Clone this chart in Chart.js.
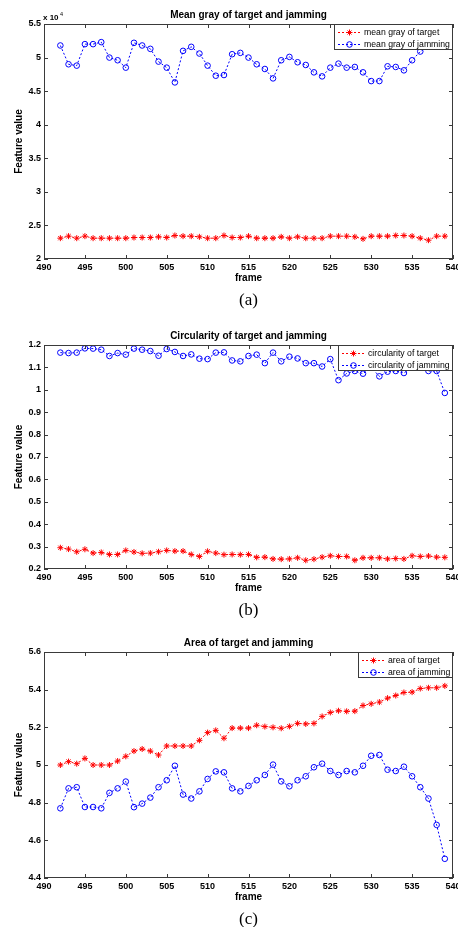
<!DOCTYPE html>
<html>
<head>
<meta charset="utf-8">
<script src="https://cdn.jsdelivr.net/npm/chart.js@4"></script>
<style>
  body { margin: 0; background: #fff; }
  .fig { position: absolute; left: 0; width: 458px; height: 309px; }
</style>
</head>
<body>
<div class="fig" style="top:0"><canvas id="grayChart" width="458" height="309"></canvas></div>
<div class="fig" style="top:309px"><canvas id="circChart" width="458" height="309"></canvas></div>
<div class="fig" style="top:618px"><canvas id="areaChart" width="458" height="309"></canvas></div>
<script>
// frames 492..539
const frames = [492, 493, 494, 495, 496, 497, 498, 499, 500, 501, 502, 503, 504, 505, 506, 507,
  508, 509, 510, 511, 512, 513, 514, 515, 516, 517, 518, 519, 520, 521, 522, 523,
  524, 525, 526, 527, 528, 529, 530, 531, 532, 533, 534, 535, 536, 537, 538, 539];

// (a) mean gray, x 10^4
const grayTarget = [2.31, 2.34, 2.31, 2.34, 2.31, 2.31, 2.31, 2.31, 2.31, 2.32, 2.32, 2.32, 2.33, 2.32, 2.35, 2.34,
  2.34, 2.33, 2.31, 2.31, 2.35, 2.32, 2.32, 2.34, 2.31, 2.31, 2.31, 2.33, 2.31, 2.33, 2.31, 2.31,
  2.31, 2.34, 2.34, 2.34, 2.33, 2.30, 2.34, 2.34, 2.34, 2.35, 2.35, 2.34, 2.31, 2.28, 2.34, 2.34];
const grayJamming = [5.18, 4.90, 4.88, 5.20, 5.20, 5.23, 5.00, 4.96, 4.85, 5.22, 5.18, 5.13, 4.94, 4.85, 4.63, 5.10,
  5.16, 5.06, 4.88, 4.73, 4.74, 5.05, 5.07, 5.00, 4.90, 4.83, 4.69, 4.96, 5.01, 4.93, 4.89, 4.78,
  4.72, 4.85, 4.91, 4.85, 4.86, 4.78, 4.65, 4.65, 4.87, 4.86, 4.81, 4.96, 5.09, 5.17, 5.22, 5.20];

// (b) circularity
const circTarget = [0.295, 0.289, 0.277, 0.288, 0.271, 0.274, 0.265, 0.265, 0.283, 0.276, 0.270, 0.271, 0.277, 0.283, 0.280, 0.280,
  0.265, 0.256, 0.279, 0.271, 0.264, 0.265, 0.264, 0.265, 0.252, 0.253, 0.245, 0.244, 0.245, 0.250, 0.239, 0.244,
  0.253, 0.259, 0.256, 0.256, 0.239, 0.250, 0.250, 0.250, 0.245, 0.247, 0.245, 0.259, 0.256, 0.258, 0.253, 0.252];
const circJamming = [1.166, 1.164, 1.166, 1.185, 1.184, 1.179, 1.151, 1.164, 1.157, 1.184, 1.179, 1.173, 1.152, 1.182, 1.169, 1.151,
  1.158, 1.139, 1.137, 1.166, 1.167, 1.131, 1.127, 1.151, 1.157, 1.119, 1.166, 1.127, 1.148, 1.140, 1.119, 1.119,
  1.104, 1.137, 1.043, 1.073, 1.084, 1.072, 1.100, 1.060, 1.081, 1.084, 1.075, 1.100, 1.110, 1.084, 1.084, 0.986];

// (c) area
const areaTarget = [5.000, 5.018, 5.007, 5.035, 5.000, 5.000, 5.000, 5.021, 5.046, 5.074, 5.085, 5.074, 5.053, 5.101, 5.101, 5.101,
  5.101, 5.131, 5.172, 5.184, 5.142, 5.196, 5.196, 5.196, 5.211, 5.204, 5.200, 5.195, 5.205, 5.221, 5.218, 5.221,
  5.258, 5.279, 5.288, 5.285, 5.286, 5.316, 5.325, 5.334, 5.355, 5.369, 5.385, 5.387, 5.406, 5.410, 5.410, 5.420];
const areaJamming = [4.770, 4.876, 4.882, 4.777, 4.777, 4.770, 4.852, 4.876, 4.912, 4.776, 4.795, 4.827, 4.882, 4.919, 4.996, 4.843,
  4.822, 4.860, 4.926, 4.966, 4.961, 4.876, 4.860, 4.889, 4.919, 4.947, 5.002, 4.913, 4.887, 4.919, 4.940, 4.988,
  5.007, 4.968, 4.947, 4.968, 4.961, 4.996, 5.049, 5.053, 4.975, 4.968, 4.991, 4.940, 4.882, 4.822, 4.682, 4.502];

// axis ranges [min, max, step]
const xRange = [490, 540, 5];
const grayRange = [2, 5.5, 0.5];
const circRange = [0.2, 1.2, 0.1];
const areaRange = [4.4, 5.6, 0.2];

const SANS = '"Liberation Sans", Arial, sans-serif';
const AXIS_COLOR = '#3a3a3a';

function drawMarker(ctx, style, x, y, color) {
  ctx.save();
  ctx.setLineDash([]);
  ctx.strokeStyle = color;
  ctx.lineWidth = 1;
  ctx.beginPath();
  if (style === 'circle') {
    ctx.arc(x, y, 2.8, 0, Math.PI * 2);
  } else {
    ctx.moveTo(x - 3, y); ctx.lineTo(x + 3, y);
    ctx.moveTo(x, y - 3); ctx.lineTo(x, y + 3);
    ctx.moveTo(x - 2, y - 2); ctx.lineTo(x + 2, y + 2);
    ctx.moveTo(x - 2, y + 2); ctx.lineTo(x + 2, y - 2);
  }
  ctx.stroke();
  ctx.restore();
}

// matlab-like box, inner ticks, title, labels and legend
const figureDecor = {
  id: 'figureDecor',
  afterDraw(chart, args, opts) {
    const { ctx, chartArea: a, scales } = chart;
    ctx.save();
    ctx.strokeStyle = AXIS_COLOR;
    ctx.lineWidth = 1;
    ctx.setLineDash([]);
    ctx.strokeRect(a.left + 0.5, a.top + 0.5, a.right - a.left - 1, a.bottom - a.top - 1);

    ctx.beginPath();
    scales.x.ticks.forEach(t => {
      const px = Math.round(scales.x.getPixelForValue(t.value)) + 0.5;
      ctx.moveTo(px, a.bottom); ctx.lineTo(px, a.bottom - 4);
      ctx.moveTo(px, a.top); ctx.lineTo(px, a.top + 4);
    });
    scales.y.ticks.forEach(t => {
      const py = Math.round(scales.y.getPixelForValue(t.value)) + 0.5;
      ctx.moveTo(a.left, py); ctx.lineTo(a.left + 4, py);
      ctx.moveTo(a.right, py); ctx.lineTo(a.right - 4, py);
    });
    ctx.stroke();

    ctx.fillStyle = '#000';
    ctx.textAlign = 'center';
    ctx.textBaseline = 'middle';
    const cx = (a.left + a.right) / 2;
    ctx.font = 'bold 10px ' + SANS;
    ctx.fillText(opts.title, cx, a.top - 9);
    ctx.fillText('frame', cx, a.bottom + 19);

    ctx.save();
    ctx.translate(19.5, (a.top + a.bottom) / 2);
    ctx.rotate(-Math.PI / 2);
    ctx.fillText('Feature value', 0, 0);
    ctx.restore();

    ctx.font = '17px "Liberation Serif", "Times New Roman", serif';
    ctx.fillText(opts.caption, cx, a.bottom + 42);

    if (opts.sci) {
      ctx.textAlign = 'left';
      ctx.font = 'bold 8px ' + SANS;
      ctx.fillText('x 10', a.left - 1, a.top - 6.5);
      const w = ctx.measureText('x 10').width;
      ctx.font = '5.5px ' + SANS;
      ctx.fillText('4', a.left + w + 0.5, a.top - 10);
    }

    // legend
    const dsList = chart.data.datasets;
    ctx.font = '8.7px ' + SANS;
    const textW = Math.max(...dsList.map(d => ctx.measureText(d.label).width));
    const boxW = Math.round(30 + textW + 3);
    const boxH = 26;
    const bx = a.right - boxW;
    const by = a.top;
    ctx.fillStyle = '#fff';
    ctx.fillRect(bx, by, boxW, boxH);
    ctx.strokeStyle = AXIS_COLOR;
    ctx.strokeRect(bx + 0.5, by + 0.5, boxW - 1, boxH - 1);
    dsList.forEach((d, i) => {
      const ly = by + 8 + 12 * i;
      ctx.save();
      ctx.strokeStyle = d.borderColor;
      ctx.setLineDash([2, 2]);
      ctx.beginPath();
      ctx.moveTo(bx + 4, ly + 0.5);
      ctx.lineTo(bx + 27, ly + 0.5);
      ctx.stroke();
      ctx.restore();
      drawMarker(ctx, d.pointStyle, bx + 15.5, ly + 0.5, d.borderColor);
      ctx.fillStyle = '#000';
      ctx.textAlign = 'left';
      ctx.textBaseline = 'middle';
      ctx.fillText(d.label, bx + 30, ly + 0.5);
    });
    ctx.restore();
  }
};

function series(label, values, color, style) {
  return {
    label: label,
    data: frames.map((f, i) => ({ x: f, y: values[i] })),
    borderColor: color,
    backgroundColor: 'rgba(0,0,0,0)',
    borderWidth: 1,
    borderDash: [2, 2],
    pointStyle: style === 'circle' ? 'circle' : 'star',
    pointRadius: style === 'circle' ? 2.8 : 3,
    pointBorderWidth: 1,
    pointBackgroundColor: 'rgba(0,0,0,0)',
    tension: 0
  };
}

function tickText(v) {
  return String(Number(v.toFixed(3)));
}

function makeChart(id, datasets, yRange, padTop, axisH, title, caption, sci) {
  return new Chart(document.getElementById(id).getContext('2d'), {
    type: 'line',
    data: { datasets: datasets },
    options: {
      responsive: false,
      animation: false,
      layout: { padding: { top: padTop, right: 5, left: 0, bottom: 0 } },
      plugins: {
        legend: { display: false },
        title: { display: false },
        tooltip: { enabled: false },
        figureDecor: { title: title, caption: caption, sci: sci }
      },
      scales: {
        x: {
          type: 'linear',
          min: xRange[0], max: xRange[1],
          grid: { display: false, drawTicks: false },
          border: { display: false },
          ticks: {
            stepSize: xRange[2], autoSkip: false, maxRotation: 0, padding: 3,
            color: '#000', font: { family: SANS, size: 9, weight: 'bold' },
            callback: tickText
          },
          afterFit: s => {
            s.height = axisH;
            s.paddingLeft = 0;
            s.paddingRight = 0;
          }
        },
        y: {
          min: yRange[0], max: yRange[1],
          grid: { display: false, drawTicks: false },
          border: { display: false },
          ticks: {
            stepSize: yRange[2], autoSkip: false, padding: 3,
            color: '#000', font: { family: SANS, size: 9, weight: 'bold' },
            callback: tickText
          },
          afterFit: s => {
            s.width = 44;
            s.paddingTop = 0;
            s.paddingBottom = 0;
          }
        }
      }
    },
    plugins: [figureDecor]
  });
}

makeChart('grayChart', [
  series('mean gray of target', grayTarget, '#ff0000', 'star'),
  series('mean gray of jamming', grayJamming, '#0000ff', 'circle')
], grayRange, 24, 50, 'Mean gray of target and jamming', '(a)', true);

makeChart('circChart', [
  series('circularity of target', circTarget, '#ff0000', 'star'),
  series('circularity of jamming', circJamming, '#0000ff', 'circle')
], circRange, 36, 49, 'Circularity of target and jamming', '(b)', false);

makeChart('areaChart', [
  series('area of target', areaTarget, '#ff0000', 'star'),
  series('area of jamming', areaJamming, '#0000ff', 'circle')
], areaRange, 34, 49, 'Area of target and jamming', '(c)', false);
</script>
</body>
</html>
